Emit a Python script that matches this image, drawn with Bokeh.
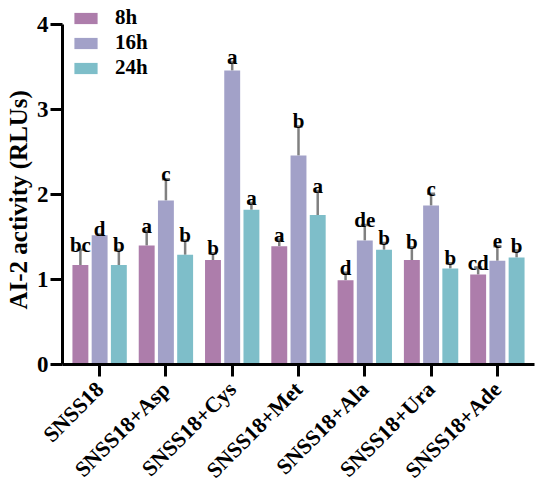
import math
from bokeh.plotting import figure
from bokeh.models import (ColumnDataSource, FactorRange, Range1d, Whisker, Legend,
                          LegendItem, TeeHead, FixedTicker, Title)
from bokeh.transform import dodge
from bokeh.core.properties import value
from bokeh.embed import file_html
from bokeh.resources import INLINE

categories = ["SNSS18", "SNSS18+Asp", "SNSS18+Cys", "SNSS18+Met",
              "SNSS18+Ala", "SNSS18+Ura", "SNSS18+Ade"]
series = ["8h", "16h", "24h"]

h8 = [1.17, 1.40, 1.23, 1.39, 0.99, 1.23, 1.06]
h8_sd = [0.18, 0.17, 0.08, 0.08, 0.09, 0.15, 0.08]
h16 = [1.52, 1.93, 3.46, 2.46, 1.46, 1.87, 1.22]
h16_sd = [0.01, 0.25, 0.10, 0.34, 0.18, 0.14, 0.17]
h24 = [1.17, 1.29, 1.82, 1.76, 1.35, 1.13, 1.26]
h24_sd = [0.18, 0.17, 0.08, 0.28, 0.08, 0.06, 0.08]

l8 = ["bc", "a", "b", "a", "d", "b", "cd"]
l16 = ["d", "c", "a", "b", "de", "c", "e"]
l24 = ["b", "b", "a", "a", "b", "b", "b"]

y_ticks = [0, 1, 2, 3, 4]
y_title = "AI-2 activity (RLUs)"

colors = ["#AD7DAB", "#A2A1C8", "#7EBEC9"]
err_color = "#808080"
FONT = "Liberation Serif"

p = figure(width=535, height=494, output_backend="svg", toolbar_location=None,
           x_range=FactorRange(factors=categories, range_padding=0.06,
                               range_padding_units="absolute"),
           y_range=Range1d(0, 4.282),
           min_border_left=59, min_border_right=1, min_border_top=0,
           min_border_bottom=130)
p.outline_line_color = None
p.xgrid.grid_line_color = None
p.ygrid.grid_line_color = None
p.background_fill_color = "white"

offsets = [-0.29, 0.0, 0.29]
vals = [h8, h16, h24]
sds = [h8_sd, h16_sd, h24_sd]
labs = [l8, l16, l24]
renderers = []
for i in range(3):
    up = [v + s for v, s in zip(vals[i], sds[i])]
    src = ColumnDataSource(dict(cat=categories, val=vals[i], up=up, lab=labs[i]))
    xd = dodge("cat", offsets[i], range=p.x_range)
    r = p.vbar(x=xd, top="val", bottom=0, width=0.24, source=src,
               fill_color=colors[i], line_color=None)
    renderers.append(r)
    w = Whisker(source=src, base=dodge("cat", offsets[i], range=p.x_range),
                upper="up", lower="val", dimension="height",
                line_color=err_color, line_width=2.5,
                upper_head=TeeHead(size=8, line_color=err_color, line_width=2.5),
                lower_head=None)
    p.add_layout(w)
    p.text(x=dodge("cat", offsets[i], range=p.x_range), y="up", text="lab", source=src,
           text_font=value(FONT), text_font_style="bold", text_font_size="21px",
           text_align="center", text_baseline="alphabetic", y_offset=-5,
           text_color="black")

# axes
for ax in (p.xaxis[0], p.yaxis[0]):
    ax.axis_line_width = 3
    ax.axis_line_color = "black"
    ax.major_tick_line_width = 3
    ax.major_tick_line_color = "black"
    ax.major_tick_out = 12
    ax.major_tick_in = 0
    ax.minor_tick_line_color = None
    ax.major_label_text_font = FONT
    ax.major_label_text_font_style = "bold"
    ax.major_label_text_color = "black"

p.yaxis[0].ticker = FixedTicker(ticks=y_ticks)
p.yaxis[0].bounds = (y_ticks[0], y_ticks[-1])
p.yaxis[0].major_label_text_font_size = "23px"
p.yaxis[0].major_label_standoff = 2

p.add_layout(Title(text=y_title, align="left", offset=55,
                   text_font=FONT, text_font_style="bold",
                   text_font_size="25px", text_color="black", standoff=4), "left")

p.xaxis[0].major_label_text_font_size = "22px"
p.xaxis[0].major_label_orientation = math.pi / 4
p.xaxis[0].major_label_standoff = 9

legend = Legend(items=[LegendItem(label=series[i], renderers=[renderers[i]]) for i in range(3)],
                location=(9, 284), orientation="vertical",
                glyph_width=29, glyph_height=14, label_height=20, spacing=0,
                padding=0, margin=0, border_line_color=None,
                background_fill_alpha=0, label_standoff=15,
                label_text_font=FONT, label_text_font_style="bold",
                label_text_font_size="21px", label_text_color="black")
p.add_layout(legend, "center")

open("out.html", "w").write(file_html(p, INLINE))
